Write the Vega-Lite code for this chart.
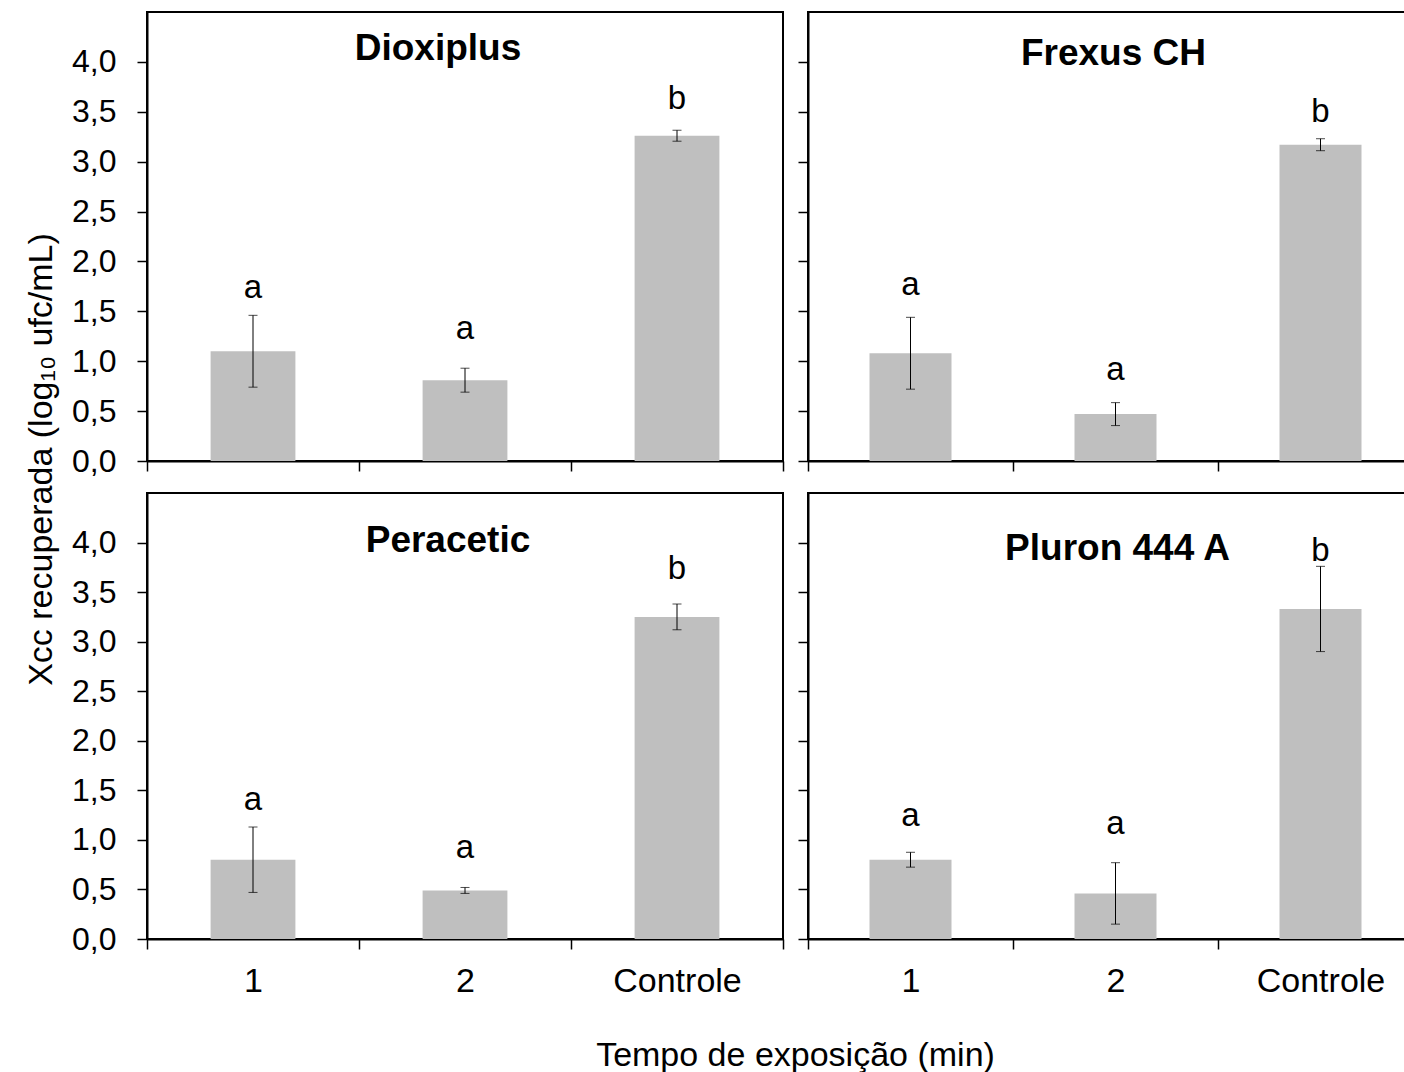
{
  "$schema": "https://vega.github.io/schema/vega-lite/v6.json",
  "background": "white",
  "padding": {"left": 23, "top": 11, "right": 0, "bottom": 0},
  "autosize": {"type": "pad"},
  "datasets": {
    "dados": [
      {"produto": "Dioxiplus", "tempo": "1", "media": 1.10, "erro": 0.36, "letra": "a", "ly": 1.63},
      {"produto": "Dioxiplus", "tempo": "2", "media": 0.81, "erro": 0.12, "letra": "a", "ly": 1.22},
      {"produto": "Dioxiplus", "tempo": "Controle", "media": 3.26, "erro": 0.055, "letra": "b", "ly": 3.53},
      {"produto": "Frexus CH", "tempo": "1", "media": 1.08, "erro": 0.36, "letra": "a", "ly": 1.66},
      {"produto": "Frexus CH", "tempo": "2", "media": 0.47, "erro": 0.115, "letra": "a", "ly": 0.81},
      {"produto": "Frexus CH", "tempo": "Controle", "media": 3.17, "erro": 0.06, "letra": "b", "ly": 3.40},
      {"produto": "Peracetic", "tempo": "1", "media": 0.80, "erro": 0.33, "letra": "a", "ly": 1.30},
      {"produto": "Peracetic", "tempo": "2", "media": 0.49, "erro": 0.03, "letra": "a", "ly": 0.82},
      {"produto": "Peracetic", "tempo": "Controle", "media": 3.25, "erro": 0.13, "letra": "b", "ly": 3.63},
      {"produto": "Pluron 444 A", "tempo": "1", "media": 0.80, "erro": 0.075, "letra": "a", "ly": 1.145},
      {"produto": "Pluron 444 A", "tempo": "2", "media": 0.46, "erro": 0.31, "letra": "a", "ly": 1.055},
      {"produto": "Pluron 444 A", "tempo": "Controle", "media": 3.33, "erro": 0.43, "letra": "b", "ly": 3.81}
    ]
  },
  "config": {
    "font": "Liberation Sans",
    "view": {"stroke": "black", "strokeWidth": 2},
    "axis": {
      "domainColor": "black", "domainWidth": 2, "tickColor": "black", "tickWidth": 1.5, "tickSize": 10,
      "labelColor": "black", "labelFont": "Liberation Sans", "labelFontSize": 32, "grid": false,
      "titleFont": "Liberation Sans", "titleFontWeight": "normal", "titleColor": "black", "titleFontSize": 34
    },
    "axisX": {"labelFontSize": 34},
    "title": {"font": "Liberation Sans", "fontSize": 37, "fontWeight": "bold", "color": "black", "anchor": "middle", "frame": "group", "baseline": "alphabetic"}
  },
  "columns": 2,
  "spacing": {"row": 32, "column": 25},
  "bounds": "flush",
  "concat": [
    {
      "width": 636, "height": 449,
      "title": {"text": "Dioxiplus", "offset": -56, "dx": -27},
      "data": {"name": "dados"},
      "transform": [{"filter": "datum.produto == 'Dioxiplus'"}],
      "encoding": {
        "x": {"field": "tempo", "type": "nominal", "sort": ["1", "2", "Controle"], "scale": {"paddingInner": 0, "paddingOuter": 0},
              "axis": {"labels": false, "title": null, "tickBand": "extent"}}
      },
      "layer": [
        {"mark": {"type": "bar", "width": {"band": 0.4}, "color": "#bfbfbf"},
         "encoding": {"y": {"field": "media", "type": "quantitative", "title": "Xcc recuperada  (log₁₀ ufc/mL)", "scale": {"domain": [0, 4.5], "nice": false},
           "axis": {"values": [0, 0.5, 1, 1.5, 2, 2.5, 3, 3.5, 4], "labelExpr": "replace(format(datum.value, '.1f'), '.', ',')", "labelPadding": 21,
                    "titleY": 447, "titlePadding": 13}}}},
        {"mark": {"type": "errorbar", "color": "black", "thickness": 1, "ticks": {"size": 9, "color": "black", "thickness": 1}},
         "encoding": {"y": {"field": "media", "type": "quantitative", "title": "Xcc recuperada  (log₁₀ ufc/mL)"}, "yError": {"field": "erro"}}},
        {"mark": {"type": "text", "baseline": "alphabetic", "fontSize": 33, "color": "black"},
         "encoding": {"y": {"field": "ly", "type": "quantitative", "title": "Xcc recuperada  (log₁₀ ufc/mL)"}, "text": {"field": "letra"}}}
      ]
    },
    {
      "width": 615, "height": 449,
      "title": {"text": "Frexus CH", "offset": -61, "dx": -2},
      "data": {"name": "dados"},
      "transform": [{"filter": "datum.produto == 'Frexus CH'"}],
      "encoding": {
        "x": {"field": "tempo", "type": "nominal", "sort": ["1", "2", "Controle"], "scale": {"paddingInner": 0, "paddingOuter": 0},
              "axis": {"labels": false, "title": null, "tickBand": "extent"}}
      },
      "layer": [
        {"mark": {"type": "bar", "width": {"band": 0.4}, "color": "#bfbfbf"},
         "encoding": {"y": {"field": "media", "type": "quantitative", "scale": {"domain": [0, 4.5], "nice": false},
           "axis": {"values": [0, 0.5, 1, 1.5, 2, 2.5, 3, 3.5, 4], "labels": false, "title": null}}}},
        {"mark": {"type": "errorbar", "color": "black", "thickness": 1, "ticks": {"size": 9, "color": "black", "thickness": 1}},
         "encoding": {"y": {"field": "media", "type": "quantitative"}, "yError": {"field": "erro"}}},
        {"mark": {"type": "text", "baseline": "alphabetic", "fontSize": 33, "color": "black"},
         "encoding": {"y": {"field": "ly", "type": "quantitative"}, "text": {"field": "letra"}}}
      ]
    },
    {
      "width": 636, "height": 446,
      "title": {"text": "Peracetic", "offset": -67, "dx": -17},
      "data": {"name": "dados"},
      "transform": [{"filter": "datum.produto == 'Peracetic'"}],
      "encoding": {
        "x": {"field": "tempo", "type": "nominal", "sort": ["1", "2", "Controle"], "scale": {"paddingInner": 0, "paddingOuter": 0},
              "axis": {"labelAngle": 0, "labelPadding": 15, "tickBand": "extent", "title": "Tempo de exposição (min)", "titleX": 648, "titlePadding": 40}}
      },
      "layer": [
        {"mark": {"type": "bar", "width": {"band": 0.4}, "color": "#bfbfbf"},
         "encoding": {"y": {"field": "media", "type": "quantitative", "scale": {"domain": [0, 4.5], "nice": false},
           "axis": {"values": [0, 0.5, 1, 1.5, 2, 2.5, 3, 3.5, 4], "labelExpr": "replace(format(datum.value, '.1f'), '.', ',')", "labelPadding": 21, "title": null}}}},
        {"mark": {"type": "errorbar", "color": "black", "thickness": 1, "ticks": {"size": 9, "color": "black", "thickness": 1}},
         "encoding": {"y": {"field": "media", "type": "quantitative"}, "yError": {"field": "erro"}}},
        {"mark": {"type": "text", "baseline": "alphabetic", "fontSize": 33, "color": "black"},
         "encoding": {"y": {"field": "ly", "type": "quantitative"}, "text": {"field": "letra"}}}
      ]
    },
    {
      "width": 615, "height": 446,
      "title": {"text": "Pluron 444 A", "offset": -75, "dx": 2},
      "data": {"name": "dados"},
      "transform": [{"filter": "datum.produto == 'Pluron 444 A'"}],
      "encoding": {
        "x": {"field": "tempo", "type": "nominal", "sort": ["1", "2", "Controle"], "scale": {"paddingInner": 0, "paddingOuter": 0},
              "axis": {"labelAngle": 0, "labelPadding": 15, "tickBand": "extent", "title": null}}
      },
      "layer": [
        {"mark": {"type": "bar", "width": {"band": 0.4}, "color": "#bfbfbf"},
         "encoding": {"y": {"field": "media", "type": "quantitative", "scale": {"domain": [0, 4.5], "nice": false},
           "axis": {"values": [0, 0.5, 1, 1.5, 2, 2.5, 3, 3.5, 4], "labels": false, "title": null}}}},
        {"mark": {"type": "errorbar", "color": "black", "thickness": 1, "ticks": {"size": 9, "color": "black", "thickness": 1}},
         "encoding": {"y": {"field": "media", "type": "quantitative"}, "yError": {"field": "erro"}}},
        {"mark": {"type": "text", "baseline": "alphabetic", "fontSize": 33, "color": "black"},
         "encoding": {"y": {"field": "ly", "type": "quantitative"}, "text": {"field": "letra"}}}
      ]
    }
  ]
}
